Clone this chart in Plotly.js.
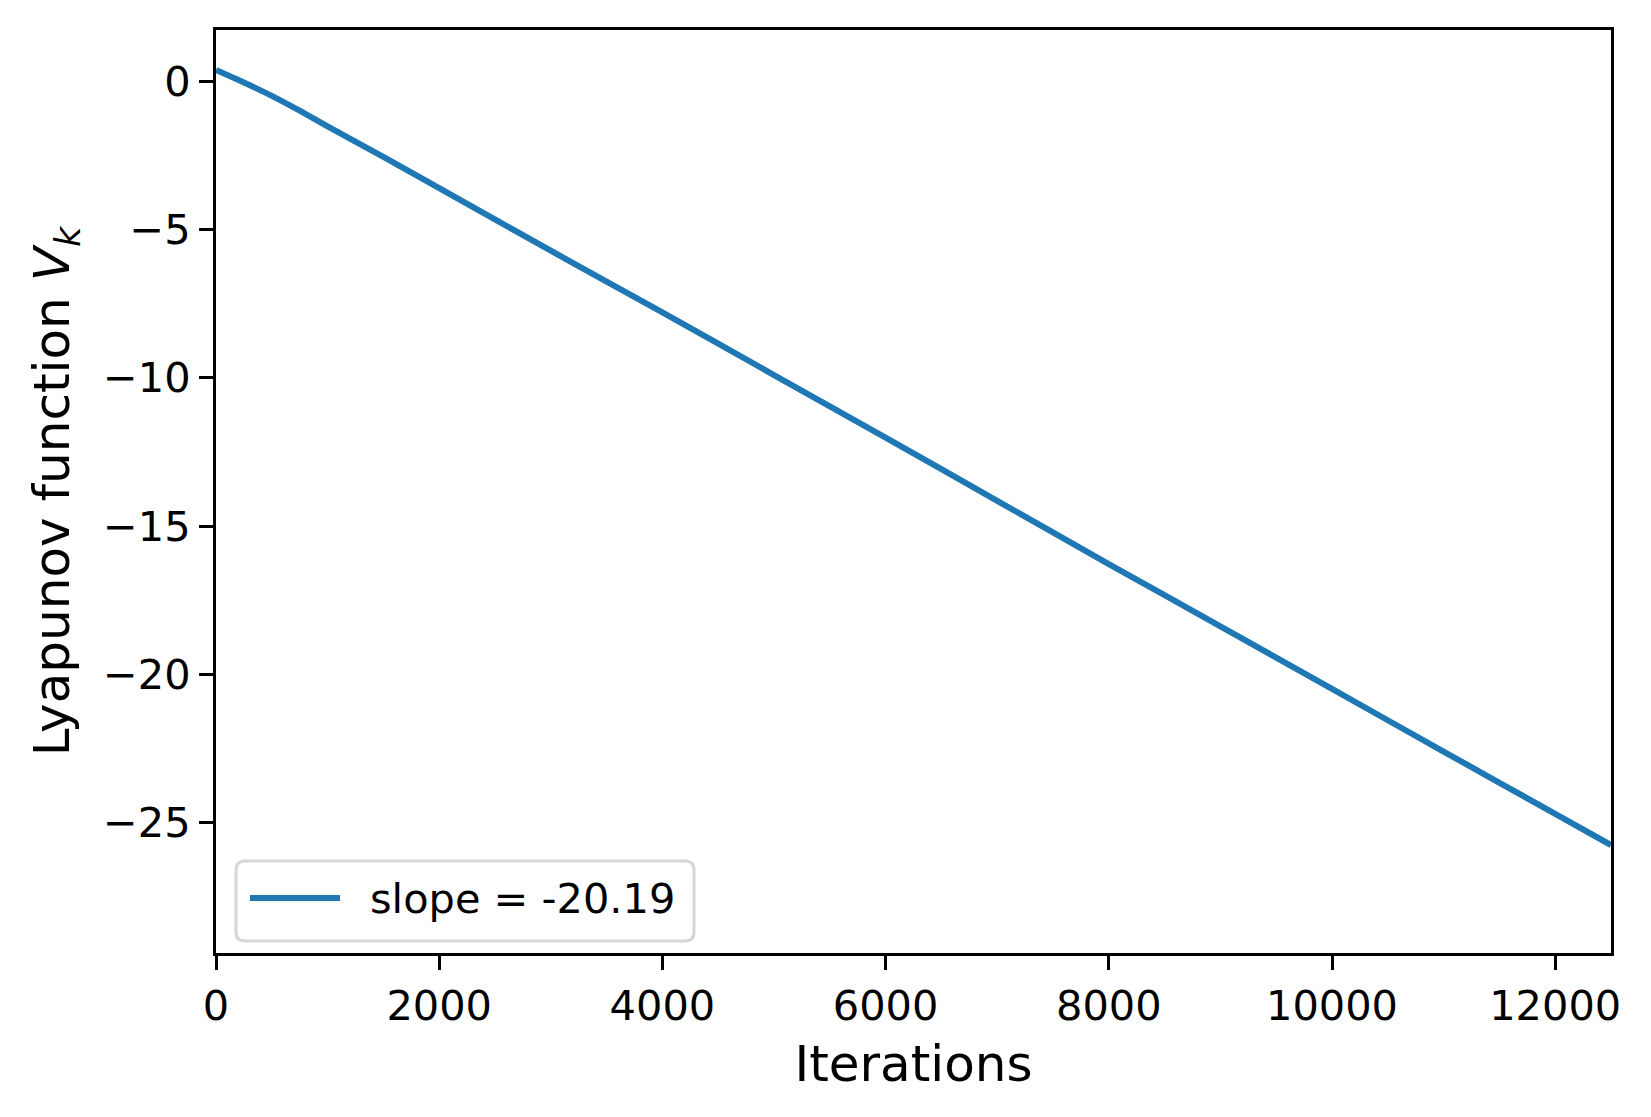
<!DOCTYPE html>
<html>
<head>
<meta charset="utf-8">
<script src="https://cdn.plot.ly/plotly-3.0.1.min.js"></script>
<style>
    html, body { margin: 0; padding: 0; background: #ffffff; }
    #chart { width: 1651px; height: 1117px; }
</style>
</head>
<body>
<div id="chart"></div>
<script>
// Lyapunov function over iterations
const iterations = [0, 250, 500, 750, 1000, 1500, 2000, 3000, 4000, 5000, 6000, 7000, 8000, 9000, 10000, 11000, 12000, 12500];
const lyapunov = [0.37, -0.05, -0.5, -1.0, -1.53, -2.56, -3.61, -5.72, -7.80, -9.91, -12.02, -14.15, -16.28, -18.38, -20.49, -22.60, -24.70, -25.75];
const legendLabel = 'slope = -20.19';

const xRange = [0, 12500];
const yRange = [-29.39, 1.72];

// Figure geometry in pixels
const W = 1651, H = 1117;
const M = { l: 216, r: 40, t: 30, b: 164 };
const plotW = W - M.l - M.r;
const plotH = H - M.t - M.b;

// pixel -> paper coordinates
const px = (x) => (x - M.l) / plotW;
const py = (y) => (H - M.b - y) / plotH;

const FONT = 'DejaVu Sans, Liberation Sans, sans-serif';
const BLUE = '#1f77b4';
const TICK_SIZE = 41.5;
const LABEL_SIZE = 50;

// Rounded legend frame, built as a path in paper units
const roundedBox = (x0, y0, x1, y1, r) => {
    const rx = r / plotW, ry = r / plotH;
    const a = px(x0), b = px(x1), top = py(y0), bot = py(y1);
    return `M${a + rx},${bot} L${b - rx},${bot} Q${b},${bot} ${b},${bot + ry} ` +
        `L${b},${top - ry} Q${b},${top} ${b - rx},${top} L${a + rx},${top} ` +
        `Q${a},${top} ${a},${top - ry} L${a},${bot + ry} Q${a},${bot} ${a + rx},${bot} Z`;
};

const trace = {
    x: iterations,
    y: lyapunov,
    type: 'scatter',
    mode: 'lines',
    name: legendLabel,
    line: { color: BLUE, width: 6, shape: 'spline', smoothing: 0.8 },
    showlegend: false
};

const axisCommon = {
    showline: true,
    linecolor: '#000000',
    linewidth: 3,
    mirror: true,
    ticks: 'outside',
    ticklen: 14,
    tickwidth: 3,
    tickcolor: '#000000',
    showgrid: false,
    zeroline: false,
    tickfont: { family: FONT, size: TICK_SIZE, color: '#000000' }
};

const layout = {
    width: W,
    height: H,
    margin: M,
    paper_bgcolor: '#ffffff',
    plot_bgcolor: '#ffffff',
    font: { family: FONT, color: '#000000' },
    xaxis: Object.assign({}, axisCommon, {
        range: xRange,
        tick0: 0,
        dtick: 2000,
        tickformat: 'd',
        automargin: false,
        title: { text: 'Iterations', font: { family: FONT, size: LABEL_SIZE }, standoff: 18 }
    }),
    yaxis: Object.assign({}, axisCommon, {
        range: yRange,
        tick0: 0,
        dtick: 5,
        automargin: false,
        title: {
            text: 'Lyapunov function <i>V</i><sub><i>k</i></sub>',
            font: { family: FONT, size: LABEL_SIZE },
            standoff: 18
        }
    }),
    shapes: [
        {
            type: 'path',
            xref: 'paper', yref: 'paper',
            path: roundedBox(236, 861, 694, 941, 9),
            line: { color: '#d6d6d6', width: 3 },
            fillcolor: 'rgba(255,255,255,0.8)'
        },
        {
            type: 'line',
            xref: 'paper', yref: 'paper',
            x0: px(250), x1: px(340), y0: py(898), y1: py(898),
            line: { color: BLUE, width: 6 }
        }
    ],
    annotations: [
        {
            xref: 'paper', yref: 'paper',
            x: px(368), y: py(898),
            xanchor: 'left', yanchor: 'middle',
            text: legendLabel,
            showarrow: false,
            font: { family: FONT, size: TICK_SIZE, color: '#000000' }
        }
    ]
};

Plotly.newPlot('chart', [trace], layout, { displayModeBar: false, staticPlot: true });
</script>
</body>
</html>
